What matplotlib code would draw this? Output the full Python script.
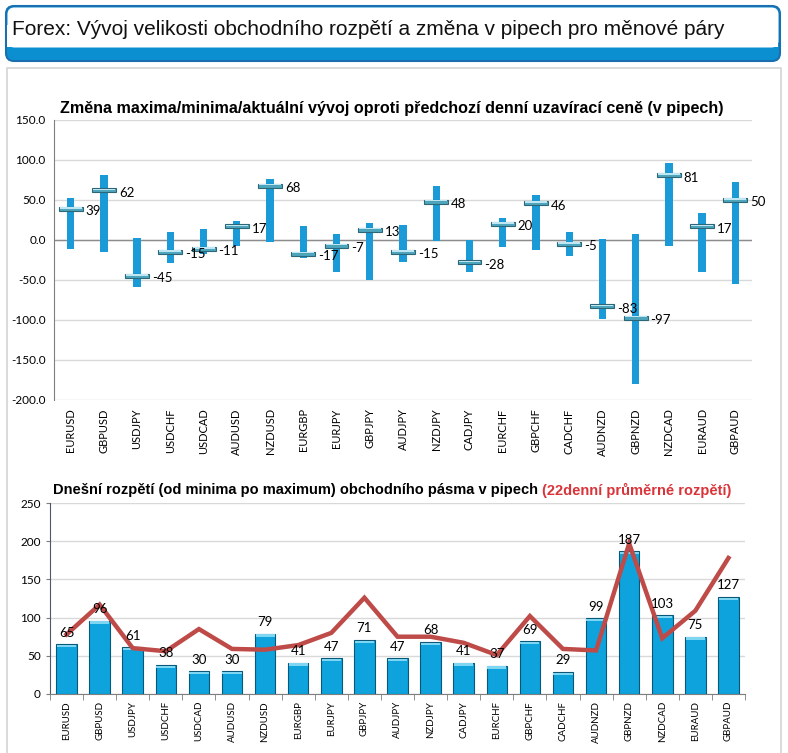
import matplotlib
matplotlib.use("Agg")
from matplotlib import pyplot as plt
from matplotlib.patches import FancyBboxPatch, Rectangle
import numpy as np

pairs = ["EURUSD", "GBPUSD", "USDJPY", "USDCHF", "USDCAD", "AUDUSD", "NZDUSD",
         "EURGBP", "EURJPY", "GBPJPY", "AUDJPY", "NZDJPY", "CADJPY", "EURCHF",
         "GBPCHF", "CADCHF", "AUDNZD", "GBPNZD", "NZDCAD", "EURAUD", "GBPAUD"]

# top chart: change vs previous close (pips)
change_now = [39, 62, -45, -15, -11, 17, 68, -17, -7, 13, -15, 48, -28, 20, 46, -5, -83, -97, 81, 17, 50]
change_high = [53, 81, 2, 10, 14, 24, 76, 18, 8, 21, 19, 67, 0, 28, 56, 10, 1, 7, 96, 34, 72]
change_low = [-11, -15, -59, -29, -17, -7, -3, -23, -40, -50, -28, -1, -40, -9, -13, -20, -99, -180, -8, -40, -55]

# bottom chart: today's range and 22 day average range
range_today = [65, 96, 61, 38, 30, 30, 79, 41, 47, 71, 47, 68, 41, 37, 69, 29, 99, 187, 103, 75, 127]
range_avg22 = [78, 117, 60, 56, 85, 59, 58, 64, 80, 126, 75, 75, 67, 51, 102, 59, 57, 197, 73, 109, 178]

W, H = 788, 753
fig = plt.figure(figsize=(W / 100, H / 100), dpi=100)
fig.patch.set_facecolor("white")

lab_font = ["Lato", "DejaVu Sans"]
head_font = ["Liberation Sans", "DejaVu Sans"]


def rect(x0, y0, x1, y1):
    return [x0 / W, 1 - y1 / H, (x1 - x0) / W, (y1 - y0) / H]


def fit_width(t, width):
    # shrink/grow a text so it spans the given number of pixels
    fig.canvas.draw()
    w = t.get_window_extent().width
    t.set_fontsize(t.get_fontsize() * width / w)


# background layer in pixel coordinates
bg = fig.add_axes([0, 0, 1, 1])
bg.set_xlim(0, W)
bg.set_ylim(H, 0)
bg.axis("off")
bg.add_patch(FancyBboxPatch((6, 6), 774, 55, boxstyle="round,pad=0,rounding_size=8",
                            fc="#0b8fd0", ec="#1a6fb0", lw=1.5))
bg.add_patch(FancyBboxPatch((7.5, 7.5), 771, 40, boxstyle="round,pad=0,rounding_size=7",
                            fc="white", ec="none"))
bg.add_patch(Rectangle((7.5, 25), 771, 22, fc="white", ec="none"))
title = bg.text(12, 29, "Forex: Vývoj velikosti obchodního rozpětí a změna v pipech pro měnové páry",
                fontsize=15, family=head_font, va="center", ha="left", color="#111111")
fit_width(title, 715)
bg.plot([7, 7, 781, 781], [760, 68, 68, 760], color="#d4d4d4", lw=1.2)

x = np.arange(len(pairs))

# ---- top chart
ax1 = fig.add_axes(rect(54, 120, 752, 400))
low = np.array(change_low)
high = np.array(change_high)
now = np.array(change_now)
ax1.bar(x, high - low, bottom=low, width=0.22, color="#1a9ad6", zorder=3)
ax1.bar(x, 5, bottom=now - 2.5, width=0.72, color="#4ea6bd", edgecolor="#2d6777", lw=0.8, zorder=4)
ax1.bar(x, 2, bottom=now + 0.3, width=0.66, color="#bfe6f2", zorder=5)
for xi, v in zip(x, change_now):
    ax1.text(xi + 0.45, v - 3, str(v), fontsize=9.5, family=lab_font, va="center", ha="left", zorder=6)
ax1.set_xlim(-0.5, len(pairs) - 0.5)
ax1.set_ylim(-200, 150)
ax1.set_yticks(np.arange(-200, 151, 50))
ax1.set_yticklabels([f"{v:.1f}" for v in np.arange(-200, 151, 50)], family=lab_font, fontsize=8.5)
ax1.set_xticks(x)
ax1.set_xticklabels(pairs, rotation=90, family=lab_font, fontsize=8)
ax1.tick_params(length=0, pad=6)
ax1.grid(axis="y", color="#d9d9d9", lw=1)
ax1.axhline(0, color="#8c8c8c", lw=1, zorder=2)
for s in ["top", "right", "bottom"]:
    ax1.spines[s].set_visible(False)
ax1.spines["left"].set_color("#7f7f7f")
ax1.set_axisbelow(True)
t_top = bg.text(60, 108, "Změna maxima/minima/aktuální vývoj oproti předchozí denní uzavírací ceně (v pipech)",
                fontsize=11, family=head_font, weight="bold", ha="left", va="center")
fit_width(t_top, 667)

# ---- bottom chart
ax2 = fig.add_axes(rect(50, 503, 745, 694))
ax2.bar(x, range_today, width=0.62, color="#0ea3dd", edgecolor="#0a5878", lw=0.8, zorder=3)
ax2.bar(x, 3, bottom=np.array(range_today) - 4, width=0.58, color="#7fd6f2", zorder=4)
ax2.plot(x, range_avg22, color="#be4b48", lw=3.2, zorder=5, solid_joinstyle="miter")
for xi, v in zip(x, range_today):
    ax2.annotate(str(v), (xi, v), xytext=(0, 4), textcoords="offset points",
                 ha="center", va="bottom", fontsize=9.5, family=lab_font, zorder=6)
ax2.set_xlim(-0.5, len(pairs) - 0.5)
ax2.set_ylim(0, 250)
ax2.set_yticks(np.arange(0, 251, 50))
ax2.set_yticklabels([str(v) for v in range(0, 251, 50)], family=lab_font, fontsize=8.5)
ax2.set_xticks(x)
ax2.set_xticklabels(pairs, rotation=90, family=lab_font, fontsize=7)
ax2.set_xticks(np.arange(-0.5, len(pairs)), minor=True)
ax2.tick_params(axis="x", which="major", length=0, pad=5)
ax2.tick_params(axis="x", which="minor", length=4, color="#7f7f7f")
ax2.tick_params(axis="y", length=3, color="#7f7f7f")
ax2.grid(axis="y", color="#d9d9d9", lw=1)
for s in ["top", "right"]:
    ax2.spines[s].set_visible(False)
ax2.spines["left"].set_color("#4a5a6a")
ax2.spines["bottom"].set_color("#7f7f7f")
ax2.set_axisbelow(True)

t1 = bg.text(53, 490, "Dnešní rozpětí (od minima po maximum) obchodního pásma v pipech ",
             fontsize=10.5, family=head_font, weight="bold", ha="left", va="center")
bg.annotate("(22denní průměrné rozpětí)", xy=(1, 0.5), xycoords=t1, ha="left", va="center",
            fontsize=10.5, family=head_font, weight="bold", color="#d9343a")

fig.savefig("out.png", dpi=100)
